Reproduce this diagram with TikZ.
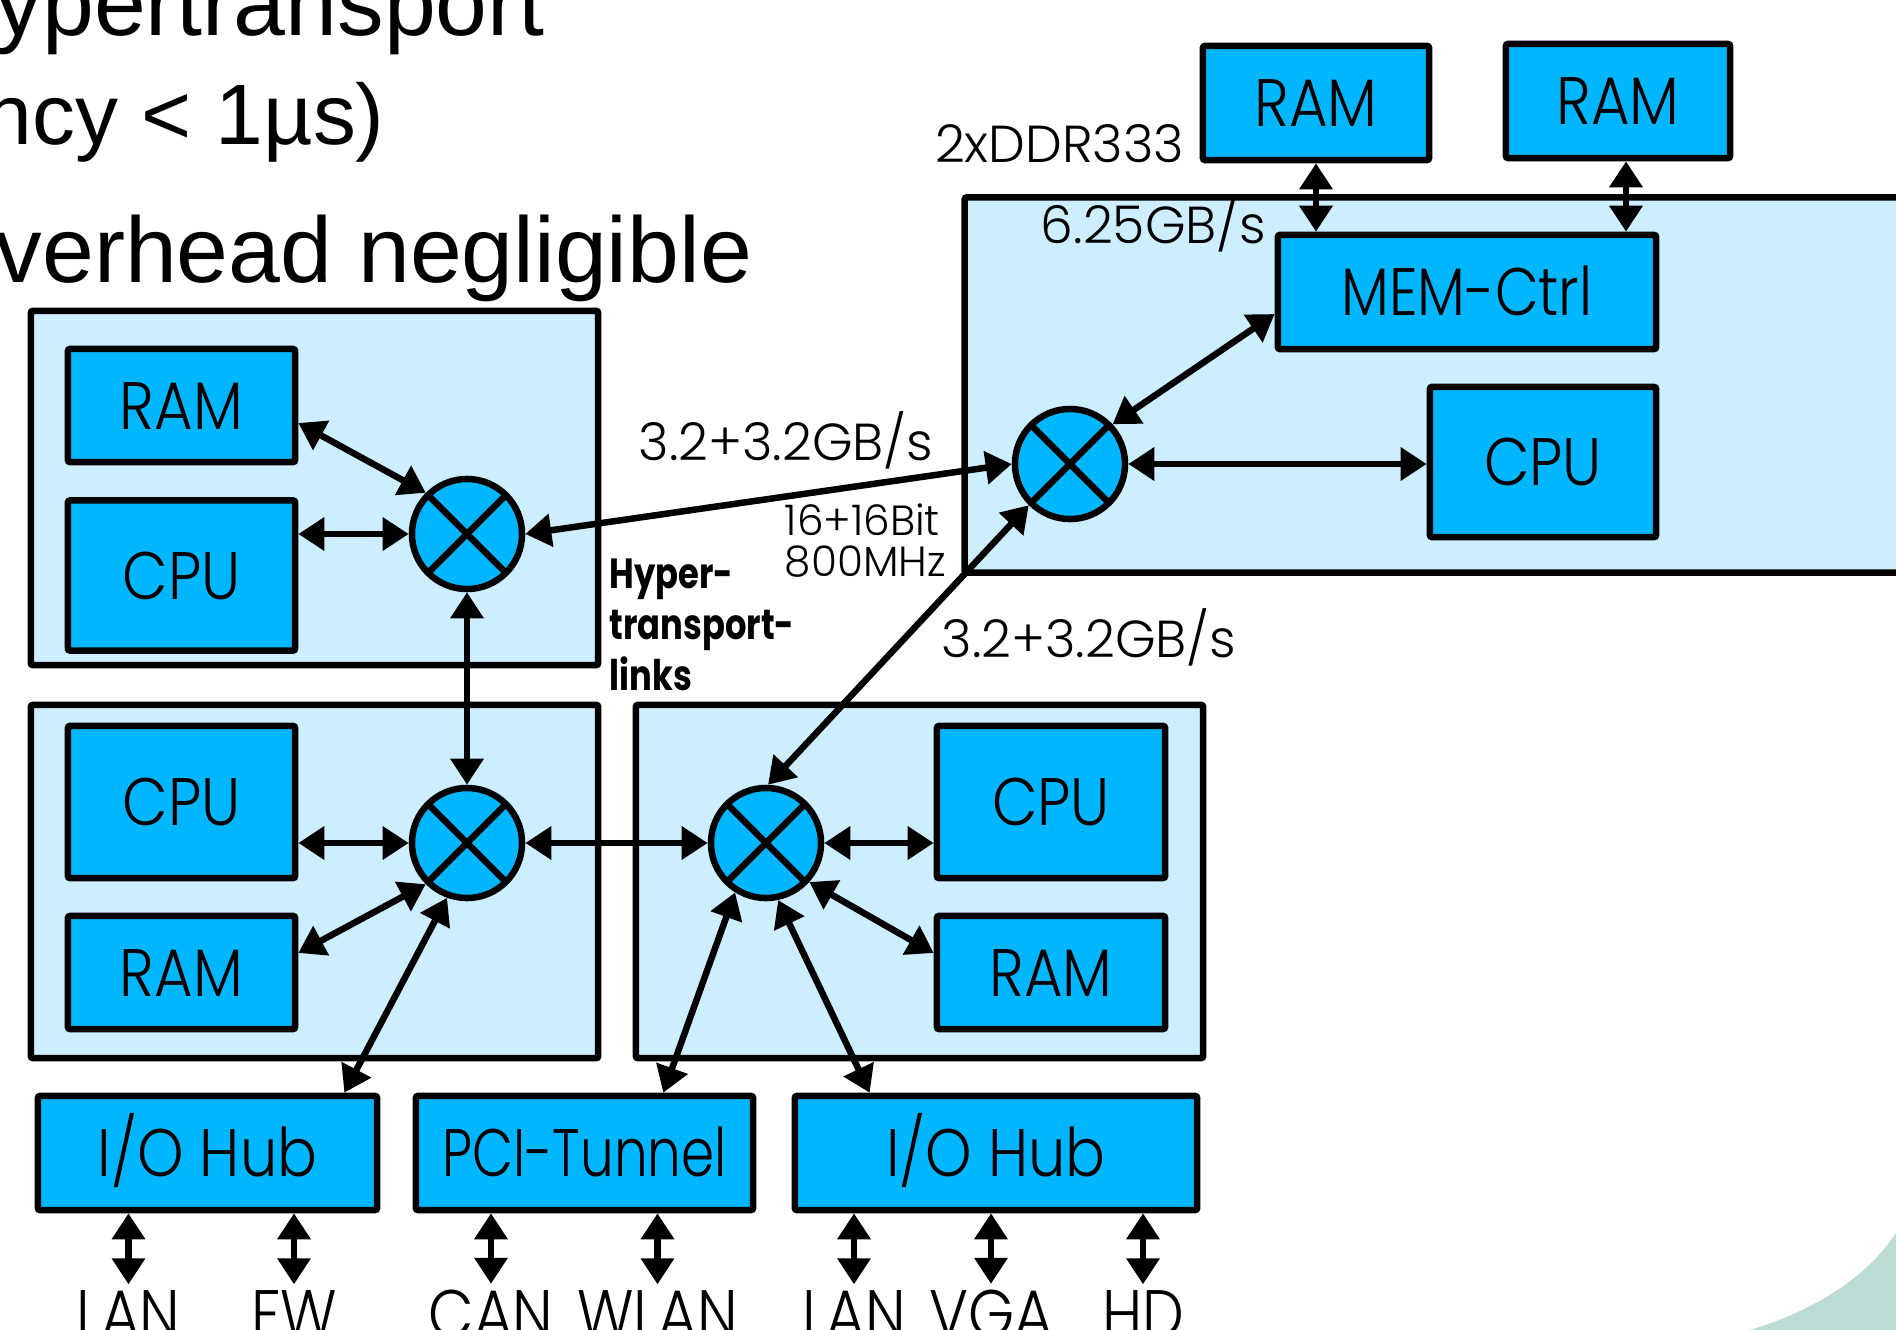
\documentclass[tikz,border=0pt]{standalone}
\usepackage{fontspec}
\usepackage{graphicx}
\setmainfont{Liberation Sans}
\newfontfamily\diagfont[FakeStretch=0.88]{Poppins Light}
\newfontfamily\notefam{Poppins Light}
\newfontfamily\boldfam[FakeStretch=0.8]{Poppins}
\usetikzlibrary{arrows.meta}

\definecolor{chip}{RGB}{0,183,255}
\definecolor{board}{RGB}{204,238,255}
\definecolor{swoosh}{RGB}{188,219,213}

\newcommand{\blkfont}{\diagfont\fontsize{19.1}{22}\selectfont}
\newcommand{\notefont}{\notefam\fontsize{14.8}{17}\selectfont}
\newcommand{\tinynote}{\notefam\fontsize{12}{11.7}\selectfont}
\newcommand{\linkfont}{\boldfam\bfseries\fontsize{12}{14.5}\selectfont}

\tikzset{
  lw/.style={line width=0.065cm},
  grp/.style={lw, draw, fill=board, rectangle, rounded corners=0.02cm, inner sep=0pt},
  blk/.style={lw, draw, fill=chip, rectangle, rounded corners=0.02cm, inner sep=0pt,
    font=\blkfont, text height=0.47cm, text depth=0cm},
  sw/.style={lw, draw, fill=chip, circle, minimum size=1.10cm, inner sep=0pt,
    path picture={\draw[line width=0.065cm]
      (path picture bounding box.north west) -- (path picture bounding box.south east)
      (path picture bounding box.north east) -- (path picture bounding box.south west);}},
  link/.style={lw, {Triangle[length=0.26cm,width=0.32cm]}-{Triangle[length=0.26cm,width=0.32cm]}},
  note/.style={inner sep=0pt, font=\notefont},
  port/.style={inner sep=0pt, anchor=base, font=\blkfont},
  bullet/.style={inner sep=0pt, anchor=base west},
}

\begin{document}
\begin{tikzpicture}[x=0.01cm, y=-0.01cm]
\useasboundingbox (0,0) rectangle (1896,1330);
\clip (0,0) rectangle (1896,1330);

% slide background swoosh
\fill[swoosh] (1750,1330) .. controls (1810,1312) and (1865,1280) .. (1896,1233)
  -- (1896,1330) -- cycle;

% slide text
\node[bullet, font=\fontsize{26.5}{30}\selectfont] (b1) at (-5,35) {ypertransport};
\node[bullet, font=\fontsize{24.4}{28}\selectfont] (b2) at (-16,144) {ncy < 1µs)};
\node[bullet, font=\fontsize{26.5}{30}\selectfont] (b3) at (-5,282) {verhead negligible};

% processor boards
\node[grp, minimum width=5.67cm, minimum height=3.54cm] (G1) at (314.5,488) {};
\node[grp, minimum width=5.67cm, minimum height=3.53cm] (G2) at (314.5,881.5) {};
\node[grp, minimum width=5.67cm, minimum height=3.53cm] (G3) at (919.5,881.5) {};
\node[grp, minimum width=9.45cm, minimum height=3.75cm] (G4) at (1437.5,385) {};

% blocks
\node[blk, minimum width=2.27cm, minimum height=1.13cm] (RAM1) at (181.5,405.5) {RAM};
\node[blk, minimum width=2.27cm, minimum height=1.50cm] (CPU1) at (181.5,575.5) {CPU};
\node[blk, minimum width=2.27cm, minimum height=1.52cm] (CPU2) at (181.5,802) {CPU};
\node[blk, minimum width=2.27cm, minimum height=1.13cm] (RAM2) at (181.5,972.5) {RAM};
\node[blk, minimum width=2.28cm, minimum height=1.52cm] (CPU3) at (1051,802) {CPU};
\node[blk, minimum width=2.28cm, minimum height=1.13cm] (RAM3) at (1051,972.5) {RAM};
\node[blk, minimum width=3.78cm, minimum height=1.14cm] (MEM) at (1467,292) {\scalebox{0.96}[1]{MEM-Ctrl}};
\node[blk, minimum width=2.26cm, minimum height=1.50cm] (CPU4) at (1543,462) {CPU};
\node[blk, minimum width=2.26cm, minimum height=1.14cm] (RT1) at (1316,103) {RAM};
\node[blk, minimum width=2.24cm, minimum height=1.14cm] (RT2) at (1618,101) {RAM};
\node[blk, minimum width=3.39cm, minimum height=1.14cm] (IO1) at (207.5,1153) {I/O Hub};
\node[blk, minimum width=3.37cm, minimum height=1.14cm] (PCI) at (584.5,1153) {\scalebox{0.9}[1]{PCI-Tunnel}};
\node[blk, minimum width=4.02cm, minimum height=1.14cm] (IO2) at (996,1153) {I/O Hub};

% crossbar switches
\node[sw] (S1) at (467,534) {};
\node[sw] (S2) at (467,843) {};
\node[sw] (S3) at (766,843) {};
\node[sw] (S4) at (1070,464) {};

% labels
\node[note, anchor=base east] (ddr) at (1185,162) {2xDDR333};
\node[note, anchor=base east] (membw) at (1267,243) {6.25GB/s};
\node[note, anchor=base west] (htbwA) at (638,460) {3.2+3.2GB/s};
\node[note, anchor=base west] (htbwB) at (941,657) {3.2+3.2GB/s};
\node[inner sep=0pt, anchor=north west, align=left, font=\tinynote] (bits) at (784,503) {16+16Bit\\800MHz};
\node[inner sep=0pt, anchor=north west, align=left, font=\linkfont] (ht) at (609,558) {Hyper-\\transport-\\links};

% peripheral ports
\node[port] (lanA) at (128.5,1337) {LAN};
\node[port] (fw) at (294,1337) {FW};
\node[port] (can) at (491,1337) {CAN};
\node[port] (wlan) at (657.5,1337) {WLAN};
\node[port] (lanB) at (854,1337) {LAN};
\node[port] (vga) at (991,1337) {VGA};
\node[port] (hd) at (1143,1337) {HD};

% links inside the boards
\draw[link] ([yshift=-0.175cm]RAM1.east) -- (S1.135);
\draw[link] (CPU1.east |- S1.west) -- (S1.west);
\draw[link] (CPU2.east |- S2.west) -- (S2.west);
\draw[link] ([yshift=0.195cm]RAM2.east) -- (S2.225);
\draw[link] (S3.east) -- (S3.east -| CPU3.west);
\draw[link] (S3.-42) -- ([yshift=0.195cm]RAM3.west);
\draw[link] (S4.43) -- ([yshift=-0.22cm]MEM.west);
\draw[link] (S4.east) -- (S4.east -| CPU4.west);
\draw[link] (RT1.south) -- (RT1.south |- MEM.north);
\draw[link] ([xshift=0.08cm]RT2.south) -- ([xshift=0.08cm]RT2.south |- MEM.north);

% hypertransport links
\draw[link] (S1.east) -- (S4.west);
\draw[link] (S1.south) -- (S2.north);
\draw[link] (S2.east) -- (S3.west);
\draw[link] (S3.88) -- (S4.225);
\draw[link] (S2.250) -- ([xshift=-0.36cm]IO1.north east);
\draw[link] (S3.238) -- ([xshift=-0.93cm]PCI.north east);
\draw[link] (S3.282) -- ([xshift=0.78cm]IO2.north west);

% peripheral links
\foreach \hub/\dev in {IO1/lanA, IO1/fw, PCI/can, PCI/wlan, IO2/lanB, IO2/vga, IO2/hd}
  \draw[link, shorten >=0.05cm] (\hub.south -| \dev) -- (\dev.north);
\end{tikzpicture}
\end{document}
